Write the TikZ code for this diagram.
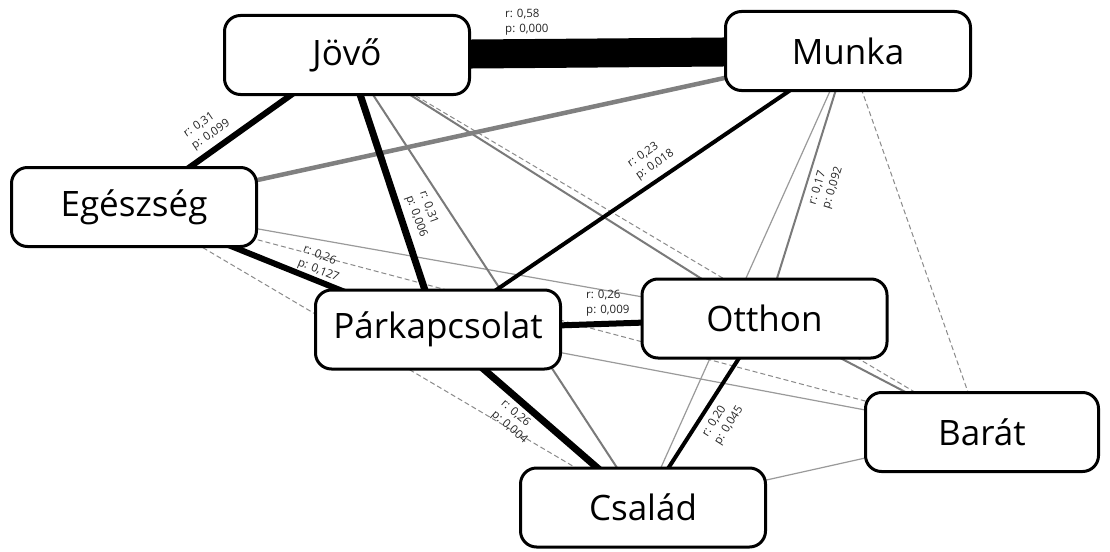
\documentclass[tikz,border=0pt]{standalone}
\usepackage{fontspec}
\setmainfont{Open Sans}
\pgfdeclarelayer{links}
\pgfdeclarelayer{paper}
\pgfsetlayers{paper,links,main}
\definecolor{midgray}{HTML}{7A7A7A}
\definecolor{lightgray}{HTML}{9A9A9A}
\definecolor{dashgray}{HTML}{8A8A8A}
\definecolor{bandgray}{HTML}{808080}
\begin{document}
\begin{tikzpicture}[x=1pt,y=-1pt,
  box/.style={draw=black, line width=3pt, rounded corners=16pt, fill=white,
    minimum width=245pt, minimum height=79pt, inner sep=0pt,
    font=\fontsize{35}{40}\selectfont},
  strong/.style={draw=black, line width=#1},
  mid/.style={draw=midgray, line width=2pt},
  faint/.style={draw=lightgray, line width=1.2pt},
  weak/.style={draw=dashgray, line width=1pt, dash pattern=on 5pt off 3pt},
  stat/.style={font=\fontsize{11.5}{14.5}\selectfont, align=left, inner sep=0pt, text=black!85}
]
\begin{pgfonlayer}{paper}
  \fill[white] (0,0) rectangle (1110,551);
\end{pgfonlayer}
\useasboundingbox (0,0) rectangle (1110,551);

% boxes
\node[box] (jovo)   at (347,55)    {Jövő};
\node[box] (munka)  at (848,51)    {Munka};
\node[box] (egesz)  at (134,207)   {Egészség};
\node[box] (park)   at (438,329.5) {Párkapcsolat};
\node[box] (otthon) at (764.5,318.5) {Otthon};
\node[box, minimum width=233pt] (barat) at (982,432) {Barát};
\node[box] (csalad) at (643,507.5) {Család};

% connections, drawn centre to centre beneath the boxes
\begin{pgfonlayer}{links}
  \draw[weak] (jovo.center) -- (barat.center);
  \draw[weak] (egesz.center) -- (barat.center);
  \draw[weak] (egesz.center) -- (csalad.center);
  \draw[weak] (munka.center) -- (barat.center);
  \draw[faint] (munka.center) -- (csalad.center);
  \draw[faint] (egesz.center) -- (otthon.center);
  \draw[faint] (park.center) -- (barat.center);
  \draw[faint] (csalad.center) -- (barat.center);
  \draw[mid] (jovo.center) -- (otthon.center);
  \draw[mid] (jovo.center) -- (csalad.center);
  \draw[mid] (munka.center) -- (otthon.center);
  \draw[mid] (otthon.center) -- (barat.center);
  \draw[draw=bandgray, line width=4.5pt] (egesz.center) -- (munka.center);
  \draw[strong=29pt] (jovo.center) -- (munka.center);
  \draw[strong=6pt] (jovo.center) -- (egesz.center);
  \draw[strong=7pt] (jovo.center) -- (park.center);
  \draw[strong=6pt] (egesz.center) -- (park.center);
  \draw[strong=6pt] (park.center) -- (otthon.center);
  \draw[strong=7pt] (park.center) -- (csalad.center);
  \draw[strong=4pt] (munka.center) -- (park.center);
  \draw[strong=4pt] (otthon.center) -- (csalad.center);
\end{pgfonlayer}

% correlation labels
\node[stat, anchor=west] (s1) at (505,22) {r: 0,58\\p: 0,000};
\node[stat, rotate=34] (s2) at (207,129) {r: 0,31\\p: 0,099};
\node[stat, rotate=-70] (s3) at (423,214) {r: 0,31\\p: 0,006};
\node[stat, rotate=-22] (s4) at (321,264) {r: 0,26\\p: 0,127};
\node[stat, rotate=34.5] (s5) at (651,159) {r: 0,23\\p: 0,018};
\node[stat, anchor=west] (s6) at (586,303) {r: 0,26\\p: 0,009};
\node[stat, rotate=72.7] (s7) at (826,186) {r: 0,17\\p: 0,092};
\node[stat, rotate=-41] (s8) at (514,422) {r: 0,26\\p: 0,004};
\node[stat, rotate=57.3] (s9) at (723,422) {r: 0,20\\p: 0,045};
\end{tikzpicture}
\end{document}
